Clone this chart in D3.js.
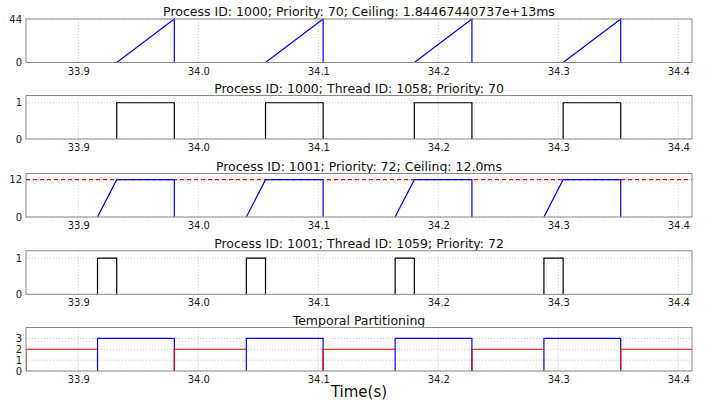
<!DOCTYPE html>
<html>
<head>
<meta charset="utf-8">
<script src="https://cdn.jsdelivr.net/npm/d3@7"></script>
<style>
  body { margin: 0; background: #fff; }
  svg { display: block; font-family: "DejaVu Sans", sans-serif; }
</style>
</head>
<body>
<svg id="chart" width="715" height="405"></svg>
<script>
// time axis shared by every panel
var xDomain = [33.8564, 34.4114];
var xTicks = [33.9, 34.0, 34.1, 34.2, 34.3, 34.4];

// thread activity windows (s)
var thread1058Start = [33.932, 34.056, 34.180, 34.304];
var thread1058End = [33.980, 34.104, 34.228, 34.352];
var thread1059Start = [33.916, 34.040, 34.164, 34.288];
var thread1059End = [33.932, 34.056, 34.180, 34.304];

// process 1000 budget (ms): ramps from 0 up to its peak, then drops
var p1000RampStart = [33.932, 34.056, 34.180, 34.304];
var p1000RampEnd = [33.980, 34.104, 34.228, 34.352];
var p1000Peak = 44;

// process 1001 budget (ms): ramps to the ceiling, holds, then drops
var p1001RampStart = [33.916, 34.040, 34.164, 34.288];
var p1001RampEnd = [33.932, 34.056, 34.180, 34.304];
var p1001DropAt = [33.980, 34.104, 34.228, 34.352];
var p1001Level = 12;
var p1001Ceiling = 12;

// temporal partitioning: active partition windows and idle windows
var partitionActiveStart = [33.916, 34.040, 34.164, 34.288];
var partitionActiveEnd = [33.980, 34.104, 34.228, 34.352];
var partitionIdleStart = [33.8564, 33.980, 34.104, 34.228, 34.352];
var partitionIdleEnd = [33.916, 34.040, 34.164, 34.288, 34.45];
var activeLevel = 3;
var idleLevel = 2;

var titles = [
  "Process ID: 1000; Priority: 70; Ceiling: 1.84467440737e+13ms",
  "Process ID: 1000; Thread ID: 1058; Priority: 70",
  "Process ID: 1001; Priority: 72; Ceiling: 12.0ms",
  "Process ID: 1001; Thread ID: 1059; Priority: 72",
  "Temporal Partitioning"
];
var yDomains = [[0, 44], [0, 1.2], [0, 14], [0, 1.2], [0, 4]];
var yTicks = [[0, 44], [0, 1], [0, 12], [0, 1], [0, 1, 2, 3]];

var left = 26, right = 692, panelH = 43.5;
var panelTops = [19, 95.5, 173.5, 250.8, 327.5];

var svg = d3.select("#chart");
var x = d3.scaleLinear().domain(xDomain).range([left, right]);

function makePanel(i) {
  var top = panelTops[i];
  var y = d3.scaleLinear().domain(yDomains[i]).range([top + panelH, top]);
  var g = svg.append("g");

  g.append("clipPath").attr("id", "clip" + i)
    .append("rect")
      .attr("x", left).attr("y", top - 1)
      .attr("width", right - left).attr("height", panelH + 2);

  // grid
  g.selectAll("line.gx").data(xTicks).enter()
    .append("line").classed("gx", true)
      .attr("x1", function (d) { return x(d); })
      .attr("x2", function (d) { return x(d); })
      .attr("y1", top).attr("y2", top + panelH)
      .style("stroke", "#b8b8b8").style("stroke-width", 0.8)
      .style("stroke-dasharray", "1,2");
  g.selectAll("line.gy").data(yTicks[i]).enter()
    .append("line").classed("gy", true)
      .attr("x1", left).attr("x2", right)
      .attr("y1", function (d) { return y(d); })
      .attr("y2", function (d) { return y(d); })
      .style("stroke", "#b8b8b8").style("stroke-width", 0.8)
      .style("stroke-dasharray", "1,2");

  var plot = g.append("g").attr("clip-path", "url(#clip" + i + ")");

  // axes
  var xAxis = d3.axisBottom(x).tickValues(xTicks).tickFormat(d3.format(".1f"))
    .tickSize(0).tickPadding(5);
  var gx = g.append("g").attr("transform", "translate(0," + (top + panelH) + ")").call(xAxis);
  gx.select(".domain").remove();
  gx.selectAll("text").style("font-size", "10px").style("fill", "#222")
    .style("font-family", "DejaVu Sans");

  var yAxis = d3.axisLeft(y).tickValues(yTicks[i]).tickSize(0).tickPadding(4)
    .tickFormat(d3.format("d"));
  var gy = g.append("g").attr("transform", "translate(" + left + ",0)").call(yAxis);
  gy.select(".domain").remove();
  gy.selectAll("text").style("font-size", "10px").style("fill", "#222")
    .style("font-family", "DejaVu Sans");

  g.append("text")
    .attr("x", (left + right) / 2).attr("y", top - 3)
    .attr("text-anchor", "middle")
    .style("font-size", "12.5px").style("fill", "#111")
    .text(titles[i]);

  var line = d3.line()
    .x(function (d) { return x(d[0]); })
    .y(function (d) { return y(d[1]); });

  return { g: g, plot: plot, y: y, top: top, line: line };
}

function frame(p) {
  p.g.append("rect")
    .attr("x", left).attr("y", p.top)
    .attr("width", right - left).attr("height", panelH)
    .style("fill", "none").style("stroke", "#8a8a8a").style("stroke-width", 1);
}

function drawPaths(p, cls, data, color) {
  p.plot.selectAll("path." + cls).data(data).enter()
    .append("path").classed(cls, true)
      .attr("d", function (d) { return p.line(d); })
      .style("fill", "none").style("stroke", color).style("stroke-width", 1.2);
}

function boxes(starts, ends, level) {
  return starts.map(function (s, k) {
    return [[s, 0], [s, level], [ends[k], level], [ends[k], 0]];
  });
}

// panel 1
var p = makePanel(0);
drawPaths(p, "ramp", p1000RampStart.map(function (s, k) {
  return [[s, 0], [p1000RampEnd[k], p1000Peak], [p1000RampEnd[k], 0]];
}), "#0000ff");
frame(p);

// panel 2
p = makePanel(1);
drawPaths(p, "box", boxes(thread1058Start, thread1058End, 1), "#000");
frame(p);

// panel 3
p = makePanel(2);
p.plot.append("line")
  .attr("x1", left).attr("x2", right)
  .attr("y1", p.y(p1001Ceiling)).attr("y2", p.y(p1001Ceiling))
  .style("stroke", "#ff0000").style("stroke-width", 1.2)
  .style("stroke-dasharray", "4,3");
drawPaths(p, "ramp", p1001RampStart.map(function (s, k) {
  return [[s, 0], [p1001RampEnd[k], p1001Level], [p1001DropAt[k], p1001Level], [p1001DropAt[k], 0]];
}), "#0000ff");
frame(p);

// panel 4
p = makePanel(3);
drawPaths(p, "box", boxes(thread1059Start, thread1059End, 1), "#000");
frame(p);

// panel 5
p = makePanel(4);
drawPaths(p, "active", boxes(partitionActiveStart, partitionActiveEnd, activeLevel), "#0000ff");
drawPaths(p, "idle", partitionIdleStart.map(function (s, k) {
  return [[s, 0], [s, idleLevel], [partitionIdleEnd[k], idleLevel]];
}), "#ff0000");
frame(p);

svg.append("text")
  .attr("x", (left + right) / 2).attr("y", 397)
  .attr("text-anchor", "middle")
  .style("font-size", "15px").style("fill", "#111")
  .text("Time(s)");
</script>
</body>
</html>
